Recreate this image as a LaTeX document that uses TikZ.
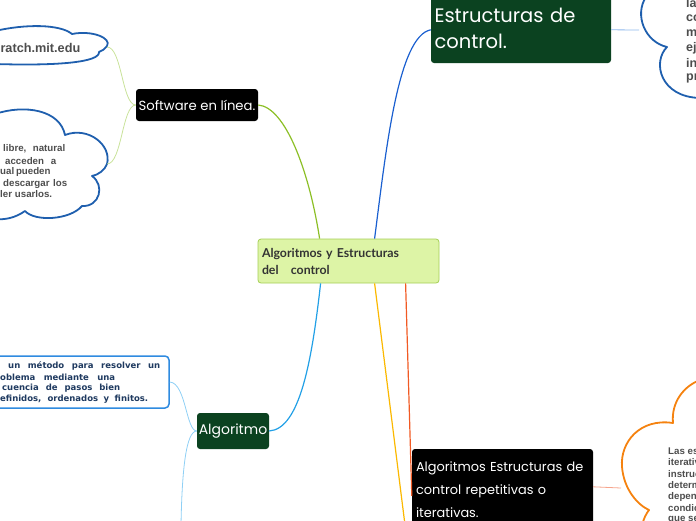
\documentclass[tikz,border=0pt]{standalone}
\usepackage{fontspec}
\setmainfont{Liberation Sans}
\newfontfamily\handfont{Poppins}
\newfontfamily\latofont{Lato}
\newfontfamily\dvfont{DejaVu Sans}
\usetikzlibrary{calc}
\definecolor{cfill}{HTML}{DDF4A6}
\definecolor{cborder}{HTML}{A5CF55}
\definecolor{dgreen}{HTML}{0B4220}
\definecolor{cloudblue}{HTML}{1F5FAE}
\definecolor{cloudorange}{HTML}{F5820F}
\definecolor{cgreen}{HTML}{8CBF26}
\definecolor{cblue}{HTML}{1A5FD0}
\definecolor{clblue}{HTML}{22A0E6}
\definecolor{cyellow}{HTML}{FBB800}
\definecolor{cred}{HTML}{F15A24}
\definecolor{tgreen}{HTML}{C9E29A}
\definecolor{tblue}{HTML}{8DB7EC}
\definecolor{tlblue}{HTML}{8FD0F5}
\definecolor{tsalmon}{HTML}{F6A48C}
\definecolor{defborder}{HTML}{2F8BE0}
\definecolor{deftext}{HTML}{1F3A60}
\definecolor{cloudtext}{HTML}{4D4D4D}
\definecolor{ctext}{HTML}{333333}
\newcommand{\jline}[2]{\makebox[#1pt][s]{#2}}
\begin{document}
\begin{tikzpicture}[x=1pt,y=-1pt,
  central/.style={rectangle, rounded corners=3pt, draw=cborder, fill=cfill, line width=0.8pt,
    minimum width=181pt, minimum height=44pt, text width=173pt, align=left,
    inner xsep=4pt, inner ysep=0pt, text=ctext, font=\latofont\bfseries\fontsize{12.3}{17}\selectfont},
  topic/.style={rectangle, rounded corners=3pt, inner sep=0pt, text=white},
  conn/.style={line width=1.2pt},
  subconn/.style={line width=0.8pt},
  cloudline/.style={line width=1.8pt, line join=round},
  ctxt/.style={font=\bfseries\fontsize{9.7}{11}\selectfont, text=cloudtext, inner sep=0pt, anchor=west},
  ctxtbig/.style={font=\bfseries\fontsize{12.5}{14}\selectfont, text=cloudtext, inner sep=0pt, anchor=west},
  deft/.style={font=\dvfont\bfseries\fontsize{8.5}{10}\selectfont, text=deftext, inner sep=0pt, anchor=west}
]
\useasboundingbox (0,0) rectangle (696,520);
\clip (0,0) rectangle (696,520);

% clouds
\draw[cloudline, cloudblue] (-5,31) .. controls (25,24) and (60,24) .. (72,34)
  .. controls (92,30) and (112,38) .. (107,46) .. controls (105,49) and (102,51) .. (99,52)
  .. controls (100,62) and (60,66) .. (-5,64);
\draw[cloudline, cloudblue] (-5,114) .. controls (25,104) and (60,110) .. (65,135)
  .. controls (88,126) and (112,145) .. (107,164) .. controls (105,170) and (98,175) .. (92,176)
  .. controls (105,185) and (100,207) .. (82,206) .. controls (70,220) and (35,222) .. (25,211)
  .. controls (15,218) and (5,220) .. (-5,219);
\draw[cloudline, cloudblue] (646,-3) .. controls (634,15) and (645,42) .. (667,47)
  .. controls (652,62) and (660,97) .. (700,98);
\draw[cloudline, cloudorange] (700,380) .. controls (684,386) and (671,402) .. (673,423)
  .. controls (640,418) and (620,442) .. (622,467) .. controls (624,490) and (638,505) .. (649,510)
  .. controls (646,514) and (644,518) .. (642,525);

% cloud texts
\node[font=\bfseries\fontsize{12.7}{15}\selectfont, text=cloudtext, inner sep=0pt, anchor=east] (t1) at (80.5,48) {ratch.mit.edu};
\node[ctxt] (t2a) at (3,148.3) {\jline{62}{libre, natural}};
\node[ctxt] (t2b) at (5,161) {\jline{51}{acceden a}};
\node[ctxt] (t2c) at (0,172) {\jline{50}{ual pueden}};
\node[ctxt] (t2d) at (3,184) {\jline{64}{descargar los}};
\node[ctxt] (t2e) at (0,194) {\jline{52}{ler usarlos.}};
\node[ctxtbig] (t3a) at (686,3) {la};
\node[ctxtbig] (t3b) at (686,18) {co};
\node[ctxtbig] (t3c) at (686,33) {m};
\node[ctxtbig] (t3d) at (686,48) {ej};
\node[ctxtbig] (t3e) at (686,63) {in};
\node[ctxtbig] (t3f) at (686,78) {pr};
\node[ctxt] (t4a) at (668,451) {Las es};
\node[ctxt] (t4b) at (668,462.5) {iterativ};
\node[ctxt] (t4c) at (668,474) {instruc};
\node[ctxt] (t4d) at (668,485.5) {determ};
\node[ctxt] (t4e) at (668,497) {depen};
\node[ctxt] (t4f) at (668,508.5) {condic};
\node[ctxt] (t4g) at (668,520) {que se};

% main nodes
\node[central] (c) at (348.5,261) {Algoritmos y Estructuras\\del\ \ \ control};
\node[topic, fill=black, minimum width=122pt, minimum height=32pt,
  font=\handfont\fontsize{13.2}{15}\selectfont] (soft) at (197,105) {Software en línea.};
\node[topic, fill=dgreen, minimum width=180pt, minimum height=70pt, text width=173pt, align=left,
  font=\handfont\fontsize{19.5}{26}\selectfont] (estr) at (521,28) {Estructuras de\\control.};
\node[topic, fill=dgreen, minimum width=72pt, minimum height=36pt,
  font=\handfont\fontsize{14}{16}\selectfont] (algo) at (233,431) {Algoritmo};
\node[topic, fill=black, minimum width=181pt, minimum height=82pt, text width=173pt, align=left,
  font=\handfont\fontsize{12.9}{23}\selectfont] (iter) at (502.5,490) {Algoritmos Estructuras de\\control repetitivas o\\iterativas.};

% definition box
\node[draw=defborder, line width=1.5pt, rounded corners=4pt, fill=white, minimum width=180pt,
  minimum height=52pt, inner sep=0pt] (def) at (79,382) {};
\node[deft] (d1) at (8,365.5) {\jline{152}{un método para resolver un}};
\node[deft] (d2) at (0,377) {\jline{115}{oblema mediante una}};
\node[deft] (d3) at (2,388) {\jline{118}{cuencia de pasos bien}};
\node[deft] (d4) at (0,399) {\jline{148}{efinidos, ordenados y finitos.}};

% coordinates
\coordinate (cl1) at (107,47);
\coordinate (cl2) at (107,164);
\coordinate (cl3) at (639,30);
\coordinate (cl4) at (621,488);
\coordinate (adn) at (181,525);
\coordinate (yend) at (405,525);

% main connectors
\draw[conn, cgreen] (soft.east) .. controls (285,107) and (309,170) .. ($(c.north west)+(62,0)$);
\draw[conn, cblue] ($(c.north west)+(117,0)$) .. controls (386,150) and (398,36) .. ($(estr.north west)+(0,37)$);
\draw[conn, clblue] ($(c.south west)+(63,0)$) .. controls (312,360) and (300,429) .. (algo.east);
\draw[conn, cyellow] ($(c.south west)+(117,0)$) -- (yend);
\draw[conn, cred] ($(c.south west)+(148,0)$) -- ($(iter.north west)+(0,47)$);

% sub connectors
\draw[subconn, tgreen] (soft.west) .. controls (122,105) and (122,47) .. (cl1);
\draw[subconn, tgreen] (soft.west) .. controls (122,105) and (122,164) .. (cl2);
\draw[subconn, tblue] ($(estr.north east)+(0,37)$) -- (cl3);
\draw[subconn, tlblue] (algo.west) .. controls (186,431) and (186,383) .. (def.east);
\draw[subconn, tlblue] (algo.west) .. controls (186,431) and (182,470) .. (adn);
\draw[subconn, tsalmon] ($(iter.north east)+(0,38)$) -- (cl4);
\end{tikzpicture}
\end{document}
